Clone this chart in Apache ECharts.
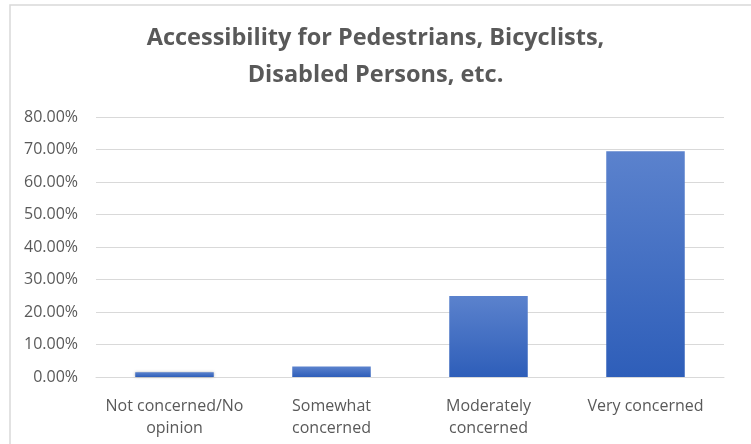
<!DOCTYPE html>
<html>
<head>
<meta charset="utf-8">
<script src="https://cdn.jsdelivr.net/npm/echarts@6/dist/echarts.min.js"></script>
<style>
  html, body { margin: 0; padding: 0; background: #fff; }
  #chart { width: 751px; height: 444px; }
</style>
</head>
<body>
<div id="chart"></div>
<script>
  // answer categories and share of responses
  var categories = ['Not concerned/No\nopinion', 'Somewhat\nconcerned', 'Moderately\nconcerned', 'Very concerned'];
  var shares = [0.015, 0.032, 0.249, 0.695];
  var titleLines = ['Accessibility for Pedestrians, Bicyclists,', 'Disabled Persons, etc.'];

  var myChart = echarts.init(document.getElementById('chart'));
  var option = {
    backgroundColor: '#fff',
    title: {
      text: titleLines.join('\n'),
      left: 'center',
      top: 15,
      textStyle: {
        color: '#595959',
        fontFamily: 'Open Sans',
        fontSize: 23.5,
        fontWeight: 'bold',
        lineHeight: 37
      }
    },
    graphic: [
      {
        type: 'rect',
        shape: { x: 10, y: 5, width: 760, height: 460 },
        style: { fill: 'none', stroke: '#d9d9d9', lineWidth: 1.5 },
        silent: true
      }
    ],
    grid: { left: 96, right: 27, top: 117, bottom: 67 },
    xAxis: {
      type: 'category',
      data: categories,
      axisLine: { lineStyle: { color: '#d9d9d9', width: 1 } },
      axisTick: { show: false },
      axisLabel: {
        color: '#595959',
        fontFamily: 'Open Sans',
        fontSize: 16,
        lineHeight: 22,
        margin: 18,
        interval: 0
      }
    },
    yAxis: {
      type: 'value',
      min: 0,
      max: 0.8,
      interval: 0.1,
      axisLine: { show: false },
      axisTick: { show: false },
      splitLine: { lineStyle: { color: '#d9d9d9', width: 1 } },
      axisLabel: {
        color: '#595959',
        fontFamily: 'Open Sans',
        fontSize: 16,
        margin: 18,
        formatter: function (v) { return (v * 100).toFixed(2) + '%'; }
      }
    },
    series: [
      {
        type: 'bar',
        data: shares,
        barWidth: '50%',
        itemStyle: {
          color: new echarts.graphic.LinearGradient(0, 0, 0, 1, [
            { offset: 0, color: '#5b82cd' },
            { offset: 1, color: '#2e5eb9' }
          ]),
          shadowBlur: 3,
          shadowColor: 'rgba(0,0,0,0.3)',
          shadowOffsetX: 0,
          shadowOffsetY: 0
        }
      }
    ]
  };
  myChart.setOption(option);
</script>
</body>
</html>
